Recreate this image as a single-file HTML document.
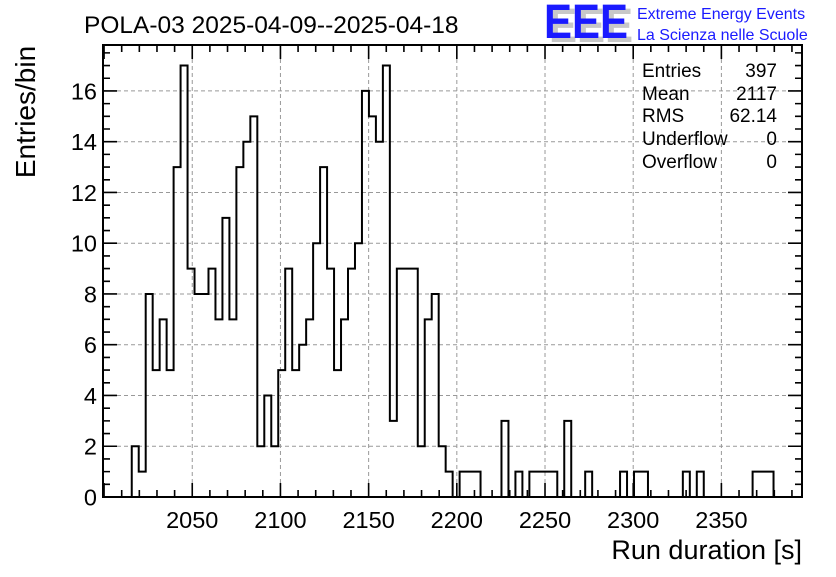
<!DOCTYPE html>
<html><head><meta charset="utf-8"><style>
body{margin:0;background:#fff;}
svg text{font-family:"Liberation Sans",Arial,sans-serif;}
</style></head><body>
<svg id="chart" width="836" height="572" viewBox="0 0 836 572" xmlns="http://www.w3.org/2000/svg">
<rect width="836" height="572" fill="#fff"/>
<g id="grid"></g>
<g id="ticks"></g>
<path id="hist" fill="none" stroke="#000" stroke-width="2"/>
<rect x="103" y="45" width="699" height="452" fill="none" stroke="#000" stroke-width="2"/>
<g id="labels" font-size="23.5" fill="#000"></g>
<text x="84" y="33" font-size="24.5">POLA-03 2025-04-09--2025-04-18</text>
<text x="802" y="559" font-size="27" text-anchor="end">Run duration [s]</text>
<text transform="translate(35,112) rotate(-90)" font-size="28" text-anchor="middle">Entries/bin</text>
<g>
<text x="549" y="42" font-size="48" font-weight="bold" fill="#c8c8c8" textLength="84" lengthAdjust="spacingAndGlyphs">EEE</text>
<text x="544" y="38" font-size="48" font-weight="bold" fill="#1a1aff" textLength="84" lengthAdjust="spacingAndGlyphs">EEE</text>
<text x="637" y="19" font-size="16" fill="#1a1aff">Extreme Energy Events</text>
<text x="637" y="40" font-size="16" fill="#1a1aff">La Scienza nelle Scuole</text>
</g>
<g font-size="19">
<text x="642" y="77">Entries</text><text x="777" y="77" text-anchor="end">397</text>
<text x="642" y="100">Mean</text><text x="777" y="100" text-anchor="end">2117</text>
<text x="642" y="122">RMS</text><text x="777" y="122" text-anchor="end">62.14</text>
<text x="642" y="145">Underflow</text><text x="777" y="145" text-anchor="end">0</text>
<text x="642" y="168">Overflow</text><text x="777" y="168" text-anchor="end">0</text>
</g>
</svg>
<script>
const counts = [2,1,8,5,7,5,13,17,9,8,8,9,7,11,7,13,14,15,2,4,2,5,9,5,6,7,10,13,9,5,7,9,10,16,15,14,17,3,9,9,9,2,7,8,2,1,0,1,1,1,0,0,0,3,0,1,0,1,1,1,1,0,3,0,0,1,0,0,0,0,1,0,1,1,0,0,0,0,0,1,0,1,0,0,0,0,0,0,0,1,1,1];
const binStart = 2015.7;
const binWidth = 3.955;
const xTicks = [2050,2100,2150,2200,2250,2300,2350];
const yTicks = [0,2,4,6,8,10,12,14,16];
const X0=103,X1=802,Y0=497,Y1=45,xmin=1999.4,xmax=2395.7,ymax=17.81;
const sx=v=>X0+(v-xmin)/(xmax-xmin)*(X1-X0);
const sy=v=>Y0-v/ymax*(Y0-Y1);
const NS="http://www.w3.org/2000/svg";
function mk(tag,attrs,parent){const e=document.createElementNS(NS,tag);for(const k in attrs)e.setAttribute(k,attrs[k]);parent.appendChild(e);return e;}
const grid=document.getElementById('grid'),ticks=document.getElementById('ticks'),labels=document.getElementById('labels');
xTicks.forEach(t=>{
  const g=mk('line',{x1:sx(t),x2:sx(t),y1:Y1,y2:Y0,stroke:'#999','stroke-dasharray':'4,3','stroke-width':1},grid);
  
  
  const l=mk('text',{x:sx(t),y:528,'text-anchor':'middle'},labels);l.textContent=t;
  
  
});
yTicks.forEach(t=>{
  if(t>0){const g=mk('line',{x1:X0,x2:X1,y1:sy(t),y2:sy(t),stroke:'#999','stroke-dasharray':'4,3','stroke-width':1},grid);
  
  }
  const l=mk('text',{x:97,y:sy(t)+8.5,'text-anchor':'end'},labels);l.textContent=t;
  
  
});
let d='';
for(let v=2000;v<xmax;v+=10){if(sx(v)<=X0+1)continue;const L=(v%50===0)?14:7;d+=`M${sx(v)},${Y0}v${-L}M${sx(v)},${Y1}v${L}`;}
for(let v=0.5;v<ymax;v+=0.5){const L=(v%2===0)?14:7;d+=`M${X0},${sy(v)}h${L}M${X1},${sy(v)}h${-L}`;}
const tk=mk('path',{d:d,stroke:'#000','stroke-width':1.6,fill:'none'},ticks);


let p=`M${sx(binStart)},${sy(0)}`;
counts.forEach((c,i)=>{const a=sx(binStart+i*binWidth),b=sx(binStart+(i+1)*binWidth);p+=`L${a},${sy(c)}L${b},${sy(c)}`;});
p+=`L${sx(binStart+counts.length*binWidth)},${sy(0)}`;
document.getElementById('hist').setAttribute('d',p);
</script>
</body></html>
